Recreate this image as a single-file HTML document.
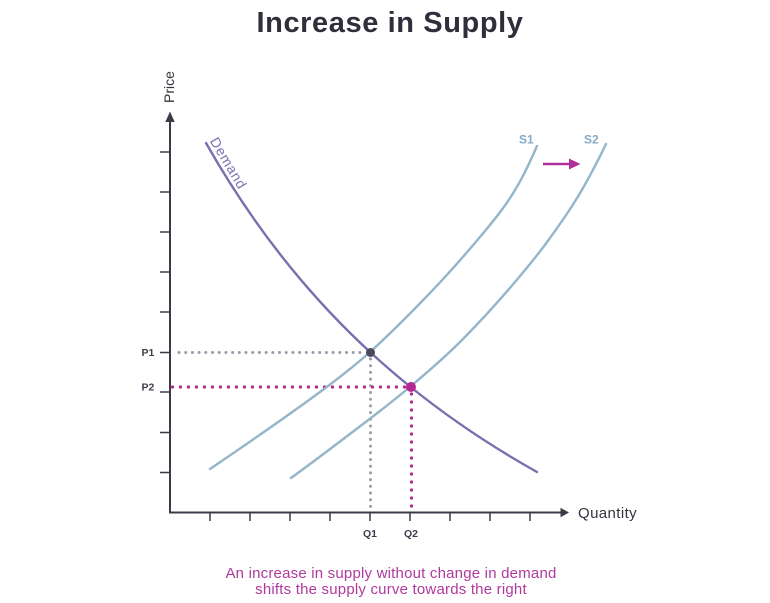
<!DOCTYPE html>
<html>
<head>
<meta charset="utf-8">
<style>
  html, body { margin:0; padding:0; background:#ffffff; }
  body { width:770px; height:603px; overflow:hidden; }
  svg { display:block; }
  text { font-family: "Liberation Sans", "DejaVu Sans", sans-serif; }
</style>
</head>
<body>
<svg width="770" height="603" viewBox="0 0 770 603" xmlns="http://www.w3.org/2000/svg">
  <rect width="770" height="603" fill="#ffffff"/>

  <!-- Title -->
  <text x="390" y="32" text-anchor="middle" font-size="29" font-weight="bold" fill="#2f2e3a" letter-spacing="0.6">Increase in Supply</text>

  <!-- Axes -->
  <line x1="170" y1="121" x2="170" y2="513" stroke="#3b3b48" stroke-width="2"/>
  <polygon points="170,111.5 165.3,122 174.7,122" fill="#3b3b48"/>
  <line x1="169" y1="512.5" x2="562" y2="512.5" stroke="#3b3b48" stroke-width="2"/>
  <polygon points="569,512.5 560.5,507.8 560.5,517.2" fill="#3b3b48"/>

  <!-- Y ticks -->
  <g stroke="#3b3b48" stroke-width="1.5">
    <line x1="160" y1="152" x2="170" y2="152"/>
    <line x1="160" y1="192" x2="170" y2="192"/>
    <line x1="160" y1="232" x2="170" y2="232"/>
    <line x1="160" y1="272" x2="170" y2="272"/>
    <line x1="160" y1="312" x2="170" y2="312"/>
    <line x1="160" y1="352.5" x2="170" y2="352.5"/>
    <line x1="160" y1="392" x2="170" y2="392"/>
    <line x1="160" y1="432.5" x2="170" y2="432.5"/>
    <line x1="160" y1="472.5" x2="170" y2="472.5"/>
  </g>
  <!-- X ticks -->
  <g stroke="#3b3b48" stroke-width="1.5">
    <line x1="210" y1="512" x2="210" y2="521"/>
    <line x1="250" y1="512" x2="250" y2="521"/>
    <line x1="290" y1="512" x2="290" y2="521"/>
    <line x1="330" y1="512" x2="330" y2="521"/>
    <line x1="370" y1="512" x2="370" y2="521"/>
    <line x1="410" y1="512" x2="410" y2="521"/>
    <line x1="450" y1="512" x2="450" y2="521"/>
    <line x1="490" y1="512" x2="490" y2="521"/>
    <line x1="530" y1="512" x2="530" y2="521"/>
  </g>

  <!-- Axis labels -->
  <text x="578" y="518" font-size="15" fill="#33333d" letter-spacing="0.4">Quantity</text>
  <text transform="translate(174,87) rotate(-90)" text-anchor="middle" font-size="14" fill="#33333d">Price</text>

  <text x="141.5" y="356" font-size="10.5" font-weight="bold" fill="#3d3d4d">P1</text>
  <text x="141.5" y="390.5" font-size="10.5" font-weight="bold" fill="#3d3d4d">P2</text>
  <text x="370" y="537" text-anchor="middle" font-size="10.5" font-weight="bold" fill="#3d3d4d">Q1</text>
  <text x="411" y="537" text-anchor="middle" font-size="10.5" font-weight="bold" fill="#3d3d4d">Q2</text>

  <!-- Dotted guide lines -->
  <line x1="179" y1="352.5" x2="366" y2="352.5" stroke="#9c9aa8" stroke-width="3" stroke-linecap="round" stroke-dasharray="0 6.7"/>
  <line x1="370.5" y1="359" x2="370.5" y2="512" stroke="#9c9aa8" stroke-width="3" stroke-linecap="round" stroke-dasharray="0 6.7"/>
  <line x1="172.5" y1="387" x2="405" y2="387" stroke="#b5288f" stroke-width="3.3" stroke-linecap="round" stroke-dasharray="0 8"/>
  <line x1="411.5" y1="394" x2="411.5" y2="512" stroke="#b5288f" stroke-width="3.3" stroke-linecap="round" stroke-dasharray="0 8"/>

  <!-- Supply S1 -->
  <path d="M210,469 C246.67,444.07 283.33,419.13 320,392 C336.67,379.67 353.33,367 370,352 C390,334 410,313.8 430,293 C448.33,273.93 466.67,253 485,231 C496,217.8 507,204.25 518,185 C524.33,173.92 530.67,160.57 537,146"
        fill="none" stroke="#94b5ca" stroke-width="2.4" stroke-linecap="round"/>
  <!-- Supply S2 -->
  <path d="M291,478 C316.33,459.76 341.67,440.25 367,421 C381.67,409.85 396.33,398.32 411,386 C427.33,372.28 443.67,358.33 460,342 C478.33,323.67 496.67,303.63 515,282 C526.67,268.23 538.33,254.33 550,238 C561,222.6 572,207.25 583,188 C590.67,174.58 598.33,160.1 606,144"
        fill="none" stroke="#94b5ca" stroke-width="2.4" stroke-linecap="round"/>

  <!-- Demand -->
  <path d="M206,143 C237.3,198.2 268.7,241.7 300,278.8 C336.7,322.2 373.3,356.9 410,386.5 C452.3,420.7 494.7,448.3 537,472"
        fill="none" stroke="#7a70b0" stroke-width="2.4" stroke-linecap="round"/>
  <text transform="translate(209.5,141) rotate(59)" font-size="14" fill="#7a70b0" letter-spacing="0.8">Demand</text>

  <!-- Equilibrium points -->
  <circle cx="370.5" cy="352.5" r="4.5" fill="#4a4a5e"/>
  <circle cx="411" cy="387" r="5" fill="#b5288f"/>

  <!-- S labels -->
  <text x="519" y="143.5" font-size="12" font-weight="bold" fill="#86abc8">S1</text>
  <text x="584" y="143.5" font-size="12" font-weight="bold" fill="#86abc8">S2</text>

  <!-- Shift arrow -->
  <line x1="543" y1="164" x2="571" y2="164" stroke="#b0309a" stroke-width="2.6"/>
  <polygon points="580.5,164 569,158.5 569,169.5" fill="#b0309a"/>

  <!-- Caption -->
  <text x="391" y="578" text-anchor="middle" font-size="15" fill="#b0399c" letter-spacing="0.2">An increase in supply without change in demand</text>
  <text x="391" y="594" text-anchor="middle" font-size="15" fill="#b0399c" letter-spacing="0.2">shifts the supply curve towards the right</text>
</svg>
</body>
</html>
